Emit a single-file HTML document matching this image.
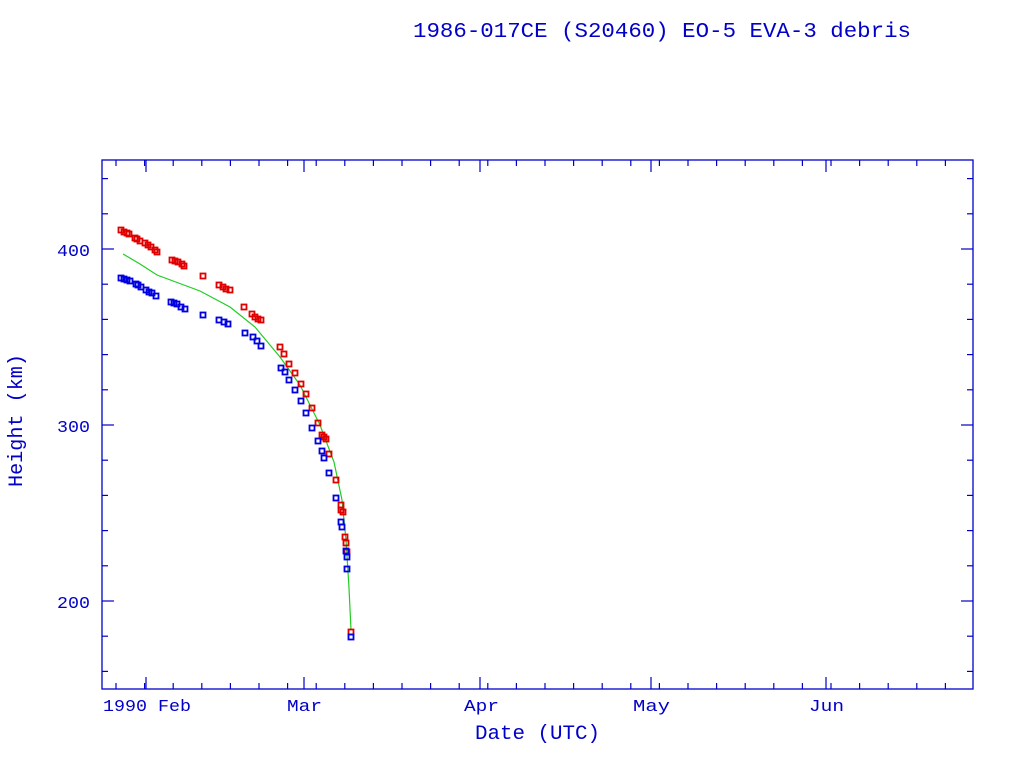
<!DOCTYPE html>
<html><head><meta charset="utf-8"><style>
html,body{margin:0;padding:0;background:#fff;}
svg{display:block;}
text{font-family:"Liberation Mono","DejaVu Sans Mono",monospace;fill:#0000c8;}
</style></head><body>
<svg id="s" width="1024" height="768" xmlns="http://www.w3.org/2000/svg">
<text x="413" y="37" font-size="21" textLength="498" lengthAdjust="spacingAndGlyphs">1986-017CE (S20460) EO-5 EVA-3 debris</text>
<rect x="102" y="160" width="871" height="529" fill="none" stroke="#0000c8" stroke-width="1.3"/>
<g font-size="17">
<text x="57" y="256" textLength="33" lengthAdjust="spacingAndGlyphs">400</text><text x="57" y="432" textLength="33" lengthAdjust="spacingAndGlyphs">300</text><text x="57" y="608" textLength="33" lengthAdjust="spacingAndGlyphs">200</text>
</g>
<g font-size="17">
<text x="103" y="711" textLength="88" lengthAdjust="spacingAndGlyphs">1990 Feb</text><text x="287" y="711" textLength="35" lengthAdjust="spacingAndGlyphs">Mar</text><text x="464" y="711" textLength="35" lengthAdjust="spacingAndGlyphs">Apr</text><text x="633" y="711" textLength="37" lengthAdjust="spacingAndGlyphs">May</text><text x="809" y="711" textLength="35" lengthAdjust="spacingAndGlyphs">Jun</text>
</g>
<text x="475" y="739" font-size="20" textLength="125" lengthAdjust="spacingAndGlyphs">Date (UTC)</text>
<text transform="translate(22,487) rotate(-90)" font-size="20" textLength="133" lengthAdjust="spacingAndGlyphs">Height (km)</text>
<g id="t" stroke="#0000c8" stroke-width="1.2"></g>
<polyline fill="none" stroke="#22cc22" stroke-width="1.2" points="123,254 140,264 157,275 200,291 230,307 255,327 280,357 300,385 320,425 334,462 342,500 346,540 349,588 351,630"/>
<g id="r" fill="none" stroke="#e00000" stroke-width="1.8"></g>
<g id="b" fill="none" stroke="#0000e0" stroke-width="1.8"></g>
</svg>
<script>
var ns="http://www.w3.org/2000/svg";
function L(g,x1,y1,x2,y2){var l=document.createElementNS(ns,"line");l.setAttribute("x1",x1);l.setAttribute("y1",y1);l.setAttribute("x2",x2);l.setAttribute("y2",y2);g.appendChild(l);}
var t=document.getElementById("t");
for(var v=160;v<=440;v+=20){var y=249+(400-v)*1.76;var m=(v%100==0)?12:6;L(t,102,y,102+m,y);L(t,973,y,973-m,y);}
[146,304,480,651,826].forEach(function(x){L(t,x,689,x,677);L(t,x,160,x,172);});
for(var x=116;x<973;x+=28.6){L(t,x,689,x,683);L(t,x,160,x,166);}
var red=[[121,230],[124,232],[127,233],[129,234],[135,238],[137,239],[140,241],[145,243],[148,245],[151,247],[155,250],[157,252],[172,260],[175,261],[178,262],[182,264],[184,266],[203,276],[219,285],[223,287],[226,289],[230,290],[244,307],[252,314],[255,317],[258,319],[261,320],[280,347],[284,354],[289,364],[295,373],[301,384],[306,394],[312,408],[318,423],[322,435],[324,437],[326,439],[329,454],[336,480],[341,505],[341,510],[343,512],[345,537],[346,543],[347,552],[351,632]];
var blue=[[121,278],[124,279],[127,280],[130,281],[136,284],[138,285],[141,287],[146,290],[149,292],[152,293],[156,296],[171,302],[174,303],[177,304],[181,307],[185,309],[203,315],[219,320],[224,322],[228,324],[245,333],[253,337],[257,341],[261,346],[281,368],[285,372],[289,380],[295,390],[301,401],[306,413],[312,428],[318,441],[322,451],[324,458],[329,473],[336,498],[341,522],[342,527],[346,551],[347,557],[347,569],[351,637]];
function P(id,a){var g=document.getElementById(id);a.forEach(function(p){var r=document.createElementNS(ns,"rect");r.setAttribute("x",p[0]-2.5);r.setAttribute("y",p[1]-2.5);r.setAttribute("width",5);r.setAttribute("height",5);g.appendChild(r);});}
P("r",red);P("b",blue);
</script>
</body></html>
